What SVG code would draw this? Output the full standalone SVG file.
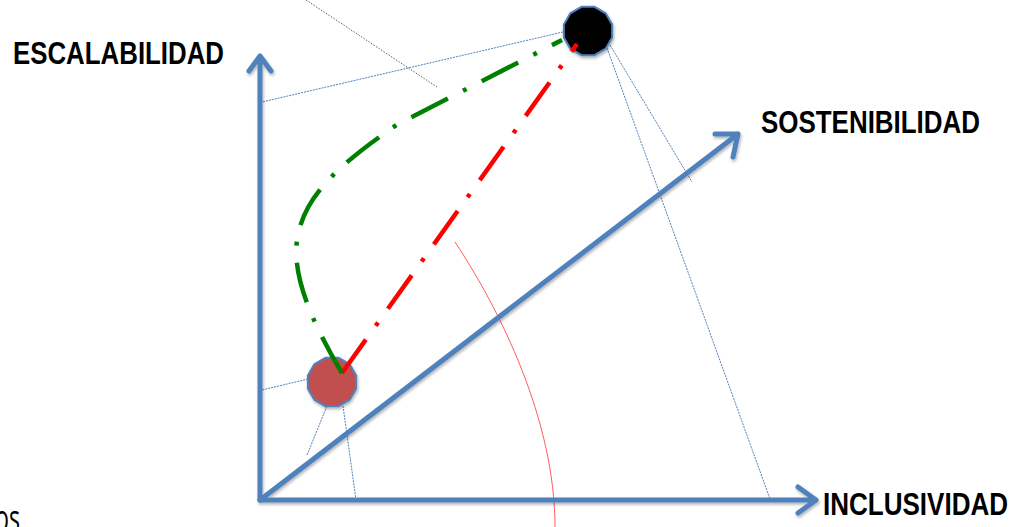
<svg xmlns="http://www.w3.org/2000/svg" width="1019" height="527" viewBox="0 0 1019 527">
  <style>
    .axis { fill: none; stroke: #4f81bd; stroke-width: 5; stroke-linecap: round; stroke-linejoin: round; }
    .proj { fill: none; stroke: #4f81bd; stroke-width: 1; stroke-dasharray: 2 1; }
    .lbl { font-family: "Liberation Sans", Arial, sans-serif; font-weight: bold; fill: #000; }
    .dd { fill: none; stroke-width: 4.5; stroke-dasharray: 41 17 4 17; stroke-linecap: butt; }
  </style>
  <defs>
    <filter id="sh" x="-20%" y="-20%" width="140%" height="140%">
      <feDropShadow dx="1" dy="2" stdDeviation="1.5" flood-color="#000" flood-opacity="0.3"/>
    </filter>
    <polygon id="dodeca" points="24.15,6.47 17.68,17.68 6.47,24.15 -6.47,24.15 -17.68,17.68 -24.15,6.47 -24.15,-6.47 -17.68,-17.68 -6.47,-24.15 6.47,-24.15 17.68,-17.68 24.15,-6.47"/>
  </defs>
  <rect width="1019" height="527" fill="#fff"/>

  <!-- background guide lines -->
  <g id="guides">
    <path d="M306,0 L437,87" fill="none" stroke="#5b6640" stroke-width="1" stroke-dasharray="1.5 1.5"/>
    <path d="M455,242 C500,310 555,420 555,527" fill="none" stroke="#ff0000" stroke-width="0.8" stroke-opacity="0.8"/>
    <path class="proj" d="M563,32 L262,102"/>
    <path class="proj" d="M607,48 L770,499"/>
    <path class="proj" d="M610,45 L692,182"/>
    <path class="proj" d="M308,379 L262,390"/>
    <path class="proj" d="M327,406 L307,455"/>
    <path class="proj" d="M343,406 L356,500"/>
  </g>

  <!-- axes -->
  <g id="axes" filter="url(#sh)">
    <path class="axis" d="M260,500 L260,56 M249,71 L260,56 L271,71"/>
    <path class="axis" d="M260,500 L816,500 M798,487 L816,500 L798,513"/>
    <path class="axis" d="M260,500 L738,134 M715,134 L738,134 L733,157"/>
  </g>

  <g id="label-escalabilidad"><text class="lbl" transform="translate(13,64) scale(0.834,1)" font-size="31" textLength="253" lengthAdjust="spacingAndGlyphs">ESCALABILIDAD</text></g>
  <g id="label-sostenibilidad"><text class="lbl" transform="translate(761,133) scale(0.836,1)" font-size="31" textLength="262" lengthAdjust="spacingAndGlyphs">SOSTENIBILIDAD</text></g>
  <g id="label-inclusividad"><text class="lbl" transform="translate(823,515) scale(0.813,1)" font-size="32" textLength="227.6" lengthAdjust="spacingAndGlyphs">INCLUSIVIDAD</text></g>
  <g id="label-os"><text x="-5" y="531" font-family="'Open Sans', 'Liberation Sans', sans-serif" font-size="36" textLength="25" lengthAdjust="spacingAndGlyphs" fill="#000">os</text></g>

  <!-- nodes -->
  <g id="node-target" filter="url(#sh)">
    <use href="#dodeca" transform="translate(588,31)" fill="#000" stroke="#4f81bd" stroke-width="2"/>
  </g>
  <g id="node-start" filter="url(#sh)">
    <use href="#dodeca" transform="translate(332,382)" fill="#c0504d" stroke="#4f81bd" stroke-width="2"/>
  </g>

  <!-- connectors -->
  <g id="connectors">
    <path class="dd" stroke="#ff0000" d="M342,373 L577,44"/>
    <path class="dd" stroke="#008000" d="M342,373 C310,320 290,270 298,235 C305,200 330,170 398,124 L562,40"/>
  </g>
</svg>
